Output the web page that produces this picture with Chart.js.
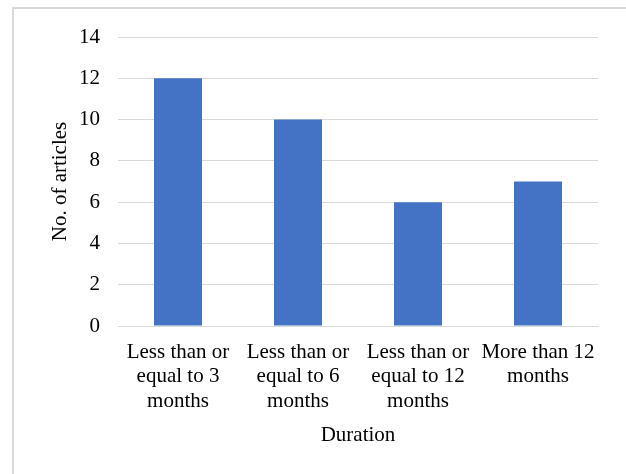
<!DOCTYPE html>
<html>
<head>
<meta charset="utf-8">
<script src="https://cdn.jsdelivr.net/npm/chart.js@4/dist/chart.umd.min.js"></script>
<style>
  html, body { margin: 0; padding: 0; background: #fff; overflow: hidden; width: 626px; height: 474px; }
  #frame { position: absolute; left: 12px; top: 7px; width: 700px; height: 600px; border: 2px solid #d9d9d9; box-sizing: border-box; }
  #wrap { position: absolute; left: 0; top: 0; width: 626px; height: 474px; }
</style>
</head>
<body>
<div id="frame"></div>
<div id="wrap"><canvas id="c" width="626" height="474"></canvas></div>
<script>
const categories = [
  ["Less than or", "equal to 3", "months"],
  ["Less than or", "equal to 6", "months"],
  ["Less than or", "equal to 12", "months"],
  ["More than 12", "months"]
];
const articleCounts = [12, 10, 6, 7];
const yTickMin = 0;
const yTickMax = 14;
const yTickStep = 2;
const xTitle = "Duration";
const yTitle = "No. of articles";

const FONT = "'Liberation Serif', 'Times New Roman', serif";
const textColor = "#000000";
const gridColor = "#d9d9d9";

new Chart(document.getElementById('c'), {
  type: 'bar',
  data: {
    labels: categories,
    datasets: [{
      data: articleCounts,
      backgroundColor: '#4472C4',
      borderWidth: 0,
      barPercentage: 0.8,
      categoryPercentage: 0.5
    }]
  },
  options: {
    responsive: false,
    animation: false,
    devicePixelRatio: 1,
    layout: { padding: { left: 40, right: 28, top: 37, bottom: 0 } },
    plugins: { legend: { display: false }, tooltip: { enabled: false } },
    scales: {
      x: {
        grid: { display: false, drawTicks: false },
        border: { display: true, color: gridColor, width: 1 },
        ticks: {
          color: textColor,
          font: { family: FONT, size: 21, lineHeight: 1.17 },
          padding: 14,
          maxRotation: 0,
          autoSkip: false
        },
        title: {
          display: true,
          text: xTitle,
          color: textColor,
          font: { family: FONT, size: 21, lineHeight: 1.15 },
          padding: { top: 4, bottom: 26 }
        },
        afterFit: (s) => { s.height = 148; }
      },
      y: {
        min: yTickMin,
        max: yTickMax,
        grid: { color: gridColor, lineWidth: 1, drawTicks: false },
        border: { display: false },
        ticks: {
          stepSize: yTickStep,
          color: textColor,
          font: { family: FONT, size: 21 },
          padding: 18
        },
        title: {
          display: true,
          text: yTitle,
          color: textColor,
          font: { family: FONT, size: 21, lineHeight: 1.15 },
          padding: { top: 8, bottom: 0 }
        },
        afterFit: (s) => { s.width = 78; }
      }
    }
  }
});
</script>
</body>
</html>
